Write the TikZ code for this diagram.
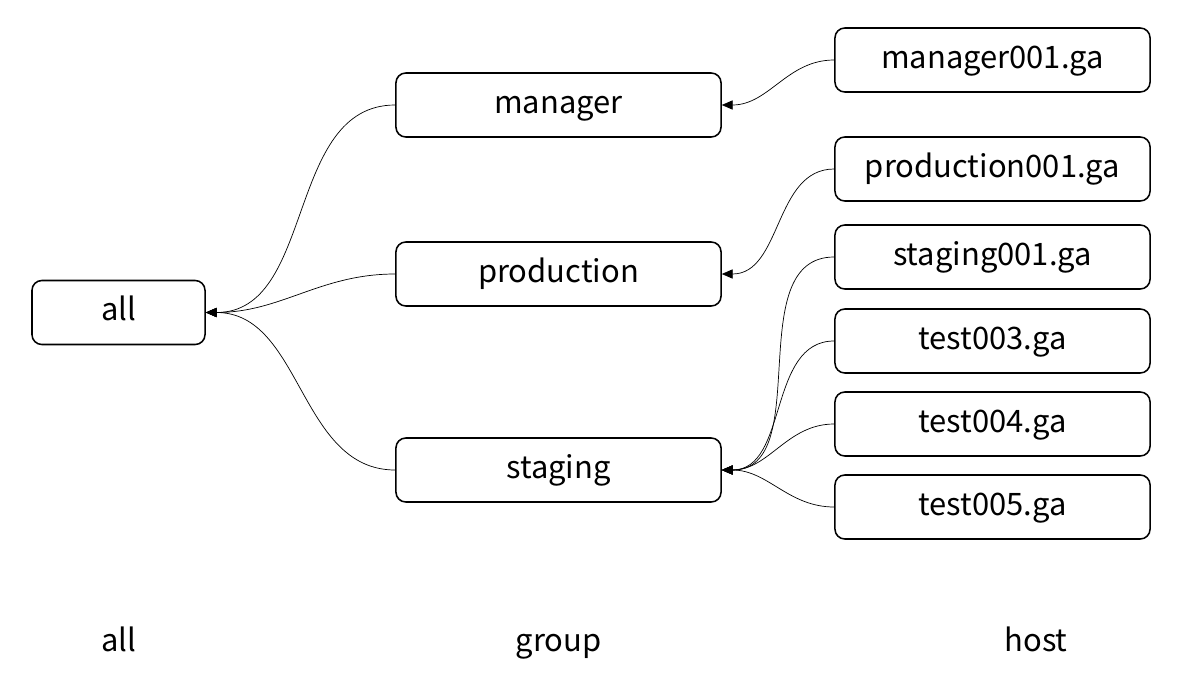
\documentclass[tikz,border=0pt]{standalone}
\usepackage{fontspec}
\setmainfont{Noto Sans CJK JP}
\usetikzlibrary{arrows.meta}
\tikzset{
  box/.style={draw,line width=1.1pt,rounded corners=7pt,minimum height=1.6cm,
    inner sep=0pt,font=\fontsize{22}{26}\selectfont,text height=18pt,text depth=6.6pt},
  edge/.style={line width=0.5pt,-{Triangle[length=2.7mm,width=2.3mm]}},
  caption/.style={font=\fontsize{22}{26}\selectfont,text height=18pt,text depth=6.6pt}
}
\begin{document}
\begin{tikzpicture}[x=0.025cm,y=-0.025cm]
  \useasboundingbox(0,0)rectangle(1200,690);
  % root
  \node[box,minimum width=4.325cm](all)at(118.5,312.5){all};
  % groups
  \node[box,minimum width=8.125cm](manager)at(558.5,105){manager};
  \node[box,minimum width=8.125cm](production)at(558.5,274){production};
  \node[box,minimum width=8.125cm](staging)at(558.5,470){staging};
  % hosts
  \node[box,minimum width=7.875cm](m001)at(992.5,60){manager001.ga};
  \node[box,minimum width=7.875cm](p001)at(992.5,169){production001.ga};
  \node[box,minimum width=7.875cm](s001)at(992.5,257){staging001.ga};
  \node[box,minimum width=7.875cm](t003)at(992.5,341){test003.ga};
  \node[box,minimum width=7.875cm](t004)at(992.5,424){test004.ga};
  \node[box,minimum width=7.875cm](t005)at(992.5,507){test005.ga};
  % edges
  \foreach \g in {manager,production,staging}
    \draw[edge](\g.west)to[out=180,in=0](all.east);
  \draw[edge](m001.west)to[out=180,in=0](manager.east);
  \draw[edge](p001.west)to[out=180,in=0](production.east);
  \foreach \h in {s001,t003,t004,t005}
    \draw[edge](\h.west)to[out=180,in=0](staging.east);
  % column labels
  \node[caption](lall)at(118.5,643){all};
  \node[caption](lgroup)at(558.5,643){group};
  \node[caption](lhost)at(1036,643){host};
\end{tikzpicture}
\end{document}
